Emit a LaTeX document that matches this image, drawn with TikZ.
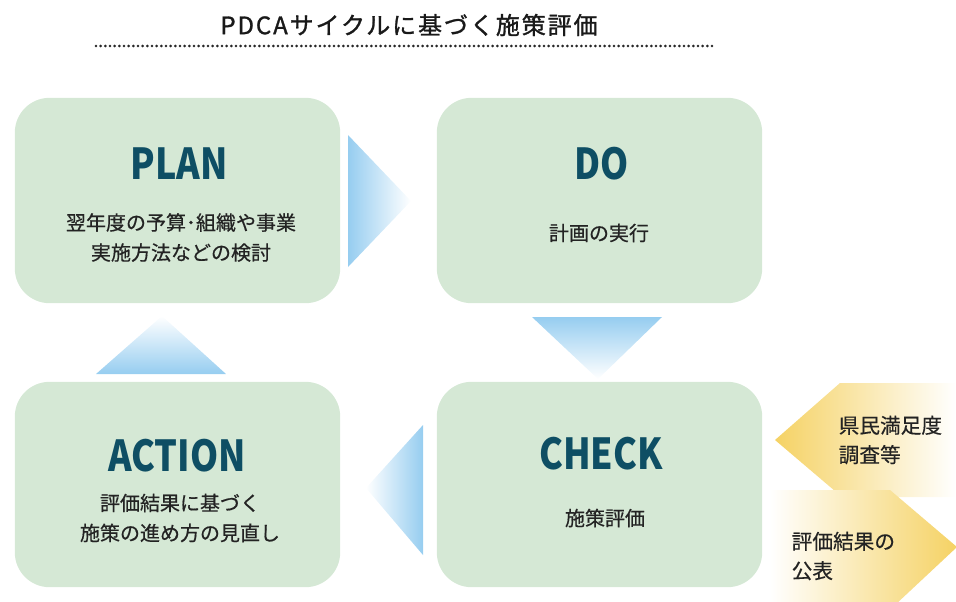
\documentclass[tikz,border=0pt]{standalone}
\usepackage{fontspec}
\usepackage{graphicx}
\setmainfont{Noto Sans CJK JP}
\definecolor{boxgreen}{RGB}{213,232,213}
\definecolor{headteal}{RGB}{14,78,100}
\definecolor{arrowblue}{RGB}{150,205,240}
\definecolor{notegold}{RGB}{245,210,100}
\definecolor{bodytext}{RGB}{35,35,35}
\tikzset{
  pdca/.style={fill=boxgreen, rounded corners=26pt, minimum width=244pt, minimum height=154pt, inner sep=0pt},
  head/.style={text=headteal, font=\fontsize{32}{32}\selectfont\bfseries},
  body/.style={text=bodytext, font=\fontsize{15}{22.5}\selectfont\addfontfeature{FakeBold=0.6}, align=center},
  note/.style={text=bodytext, font=\fontsize{15.5}{22}\selectfont\addfontfeature{FakeBold=0.4}, align=left, anchor=west},
}
\newcommand{\narrowtxt}[1]{\scalebox{0.84}[1]{#1}}

\begin{document}
\begin{tikzpicture}[x=0.75pt, y=-0.75pt]
  \useasboundingbox (0,0) rectangle (956,601);

      % title
      \node[text=black!90, font=\fontsize{18}{18}\selectfont] (title) at (409,25) {\addfontfeature{LetterSpace=8,FakeBold=1.2}PDCAサイクルに基づく施策評価};
      \draw[line width=2.2pt, line cap=round, dash pattern=on 0pt off 3.5pt, black!85] (96,46)--(715,46);

      % the four boxes
      \node[pdca] (plan) at (177.5,200.5) {};
      \node[pdca] (do) at (599.5,200.5) {};
      \node[pdca] (action) at (177.5,484.5) {};
      \node[pdca] (check) at (599.5,484.5) {};

      \node[head] (planhead) at (179,164) {\narrowtxt{PLAN}};
      \node[body] (plantext) at (181,237.5) {翌年度の予算･組織や事業\\実施方法などの検討};
      \node[head] (dohead) at (602,164) {\narrowtxt{DO}};
      \node[body] (dotext) at (599,233) {計画の実行};
      \node[head] (checkhead) at (601,454) {\narrowtxt{CHECK}};
      \node[body] (checktext) at (605,518) {施策評価};
      \node[head] (actionhead) at (177,456) {\narrowtxt{ACTION}};
      \node[body] (actiontext) at (180,518) {評価結果に基づく\\施策の進め方の見直し};

      % cycle arrows
      \shade[left color=arrowblue, right color=white] (348,135)--(411,201)--(348,267)--cycle;
      \shade[top color=arrowblue, bottom color=white] (532,317)--(662,317)--(598,379)--cycle;
      \shade[left color=white, right color=arrowblue] (423,425)--(366,488)--(423,555)--cycle;
      \shade[top color=white, bottom color=arrowblue] (96,374)--(162,316)--(226,374)--cycle;

      % side notes
      \shade[left color=notegold, right color=white] (956,383)--(840,383)--(775,440)--(842,497)--(956,497)--cycle;
      \shade[left color=white, right color=notegold] (770,490)--(890,490)--(957,547)--(895,605)--(770,605)--cycle;
      \node[note] (survey) at (834,440) {県民満足度\\調査等};
      \node[note] (publish) at (787,556) {評価結果の\\公表};

\end{tikzpicture}
\end{document}
